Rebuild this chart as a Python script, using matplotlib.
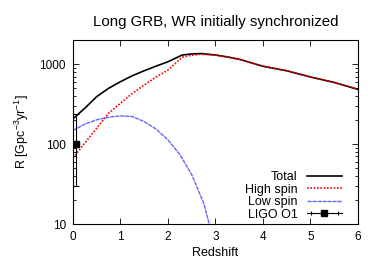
import matplotlib
matplotlib.use("Agg")
import matplotlib.pyplot as plt
from matplotlib.lines import Line2D
from matplotlib.legend_handler import HandlerLine2D, HandlerTuple
from matplotlib.ticker import FixedLocator, LogLocator, NullFormatter

plt.rcParams["font.family"] = ["Liberation Sans", "DejaVu Sans"]
plt.rcParams["font.size"] = 9
plt.rcParams["mathtext.default"] = "regular"

# redshift grid and rates [Gpc^-3 yr^-1]
z = [0, 0.25, 0.5, 0.75, 1.0, 1.25, 1.5, 1.75, 2.0, 2.3, 2.5, 2.7,
     3.0, 3.25, 3.5, 4.0, 4.5, 5.0, 5.5, 6.0]
total = [207, 281, 392, 498, 603, 716, 826, 944, 1070, 1300, 1340, 1355,
         1300, 1230, 1150, 940, 826, 690, 590, 484]
high_spin = [67, 103, 158, 243, 324, 430, 548, 690, 842, 1220, 1290, 1330,
             1295, 1228, 1150, 940, 826, 690, 590, 484]

z_low = [0, 0.25, 0.5, 0.75, 1.0, 1.25, 1.5, 1.75, 2.0, 2.25, 2.5, 2.75, 2.9]
low_spin = [148, 178, 201, 217, 225, 221, 191, 154, 113, 74, 41.5, 18.5, 8.5]

# LIGO O1 point
ligo_z = [0.07]
ligo_r = [100]
ligo_lo = [70]
ligo_hi = [140]

blue = "#6464ff"
blue_ls = (0, (3, 0.6))

fig = plt.figure(figsize=(3.82, 2.67), dpi=100)
ax = fig.add_axes([0.191, 0.161, 0.746, 0.689])

ax.plot(z, total, color="black", lw=1.2)
ax.plot(z, high_spin, color="red", lw=1.2, ls=(0, (1, 1)))
ax.plot(z_low, low_spin, color=blue, lw=1.0, ls=blue_ls)
ax.errorbar(ligo_z, ligo_r, yerr=[ligo_lo, ligo_hi], fmt="s", color="black",
            ms=5, lw=0.8, capsize=2, capthick=0.8)

ax.set_yscale("log")
ax.set_xlim(0, 6)
ax.set_ylim(10, 2000)
ax.xaxis.set_major_locator(FixedLocator([0, 1, 2, 3, 4, 5, 6]))
ax.yaxis.set_major_locator(FixedLocator([10, 100, 1000]))
ax.yaxis.set_minor_locator(LogLocator(base=10, subs=range(2, 10)))
ax.yaxis.set_minor_formatter(NullFormatter())
ax.set_yticklabels(["10", "100", "1000"])
ax.tick_params(which="both", direction="in", top=True, right=True, labelsize=8.5)
ax.tick_params(which="major", length=4, width=0.6, pad=5)
ax.tick_params(which="minor", length=2, width=0.6)
for s in ax.spines.values():
    s.set_linewidth(0.8)

ax.set_xlabel("Redshift", labelpad=3)
ax.set_ylabel("R [Gpc$^{-3}$yr$^{-1}$]", labelpad=6)
ax.set_title("Long GRB, WR initially synchronized", pad=10)

# legend handles, gnuplot style (text left of sample)
h_total = Line2D([], [], color="black", lw=1.2)
h_high = Line2D([], [], color="red", lw=1.2, ls=(0, (1, 1)))
h_low = Line2D([], [], color=blue, lw=1.0, ls=blue_ls)
h_pt = Line2D([], [], color="black", lw=0.8, marker="s", ms=5)
h_caps = Line2D([], [], color="black", ls="none", marker="|", ms=3, mew=0.8)

ax.legend([h_total, h_high, h_low, (h_pt, h_caps)],
          ["Total", "High spin", "Low spin", "LIGO O1"],
          handler_map={h_caps: HandlerLine2D(numpoints=2),
                       tuple: HandlerTuple(ndivide=1, pad=0)},
          loc="lower right", bbox_to_anchor=(0.961, -0.01), borderaxespad=0,
          frameon=False, markerfirst=False, handlelength=2.8,
          labelspacing=0.05, handletextpad=0.72)

fig.savefig("out.png", dpi=100)
